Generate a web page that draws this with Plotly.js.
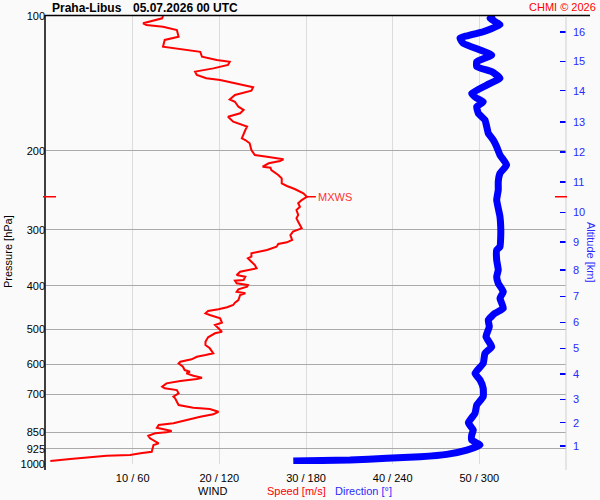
<!DOCTYPE html>
<html>
<head>
<meta charset="utf-8">
<script src="https://cdn.plot.ly/plotly-3.0.1.min.js"></script>
<style>html,body{margin:0;padding:0;background:#fafafa;}#chart{width:600px;height:500px;}</style>
</head>
<body>
<div id="chart"></div>
<script>
// Wind speed profile (pressure hPa, speed m/s)
var speedP = [100,101.2,103.8,104.7,105.7,107.5,111.2,113.1,117.1,118.5,120.2,123.3,125.4,126.5,128.6,130.9,133.1,135.4,137.7,138.9,141.3,144.2,146.8,150.1,153.5,155.4,159.4,162.1,164.9,167.8,172.2,176.6,
179.7,187.5,189.2,192.4,199.2,204.4,206.2,207.8,208.9,210.7,213.2,217.0,218.1,220.7,226.4,230.4,236.3,239.6,243.3,248.8,253.2,257.5,261.9,266.5,271.0,278.1,282.9,287.9,297.8,303.0,308.3,316.2,320.0,322.8,327.3,332.9,335.8,338.6,
344.5,347.4,353.5,359.6,365.7,368.9,372.2,378.5,381.9,388.4,389.8,395.1,398.6,402.1,407.5,412.5,415.9,419.6,430.5,436.5,441.7,446.9,451.6,455.5,461.0,465.0,473.0,483.8,489.5,497.8,506.6,510.8,521.4,533.3,542.5,551.8,566.2,571.2,576.2,583.9,
591.2,596.1,606.6,617.0,622.4,627.5,635.3,641.9,646.2,652.9,660.7,672.3,677.8,683.8,695.5,707.7,713.6,726.2,738.6,748.9,753.9,764.5,774.7,784.4,801.9,811.4,818.5,830.0,844.2,849.9,854.3,864.9,876.5,892.0,899.3,907.3,939.1,946.8,955.0,958.4,966.1,974.6,984.7];
var speed = [13.5,13.4,11.2,11.6,13.5,15.1,15.3,13.7,13.5,15.8,17.8,18.0,19.7,21.2,21.0,19.3,17.2,17.4,18.5,20.1,22.0,23.9,23.7,21.8,21.2,21.8,22.2,22.8,22.4,21.0,21.6,23.2,
23.0,22.6,23.0,23.5,23.7,24.1,25.5,26.6,27.4,27.0,25.7,25.0,25.9,26.0,26.8,27.2,27.2,27.8,28.7,29.7,30.1,29.5,29.1,29.3,28.9,29.1,28.9,29.1,29.5,28.5,28.2,28.4,27.8,26.8,26.6,25.5,24.7,23.7,
23.7,23.3,23.7,24.1,24.3,23.5,22.4,22.0,23.0,22.8,21.8,22.0,23.3,23.2,22.2,22.0,23.0,22.4,22.2,21.8,21.6,20.9,19.9,18.7,18.4,18.9,20.1,20.3,19.5,19.9,20.3,19.5,18.7,18.4,18.4,18.9,19.3,18.4,17.4,16.8,
15.5,15.3,15.8,16.0,16.6,16.2,17.0,18.0,17.4,15.5,13.9,13.4,13.7,15.1,15.3,14.7,14.9,15.1,15.3,17.0,18.9,19.9,19.3,17.8,15.8,14.7,13.0,12.8,14.5,13.9,12.6,11.8,12.0,12.6,13.0,12.4,12.2,10.9,9.7,7.0,4.7,2.8,0.5];

// Wind direction profile (pressure hPa, direction deg)
var dirP = [100,101.2,104.7,108.4,112.1,115.1,119.1,122.2,126.5,129.8,133.1,137.7,142.6,148.8,152.6,155.4,159.4,164.9,170.7,176.6,182.7,189.2,195.8,204.4,215.0,224.4,234.4,244.6,257.5,268.7,280.5,295.3,310.9,327.3,332.9,350.4,368.9,381.9,395.1,412.5,426.7,449.2,461.0,477.2,493.8,519.8,547.2,566.2,596.1,627.5,649.4,677.8,707.7,738.6,770.8,808.6,839.8,861.8,884.2,907.3,930.9,951.6,963.4,971.1,979.7,984.7];
var direction = [310.8,307.4,314.3,302.7,286.6,288.9,300.5,308.6,298.2,298.2,308.6,314.3,305.1,294.7,298.2,302.7,298.2,299.3,303.9,305.1,306.2,309.7,312.0,314.3,318.9,314.3,313.1,313.1,312.0,313.1,314.3,314.8,314.8,314.3,312.0,312.0,313.1,312.0,313.1,316.6,314.3,316.6,310.8,306.2,306.9,304.6,308.6,303.9,302.7,297.0,300.5,302.7,302.7,298.2,297.0,292.4,295.8,294.7,294.7,300.5,291.3,277.4,258.9,235.9,210.5,171.2];

// Axis ticks
var pressureTicks = [100,200,300,400,500,600,700,850,925,1000];
var speedTicks = [10,20,30,40,50];
var speedTickText = ['10 / 60','20 / 120','30 / 180','40 / 240','50 / 300'];
var altKm = [1,2,3,4,5,6,7,8,9,10,11,12,13,14,15,16];
var altPressure = [911.9,808.7,717,629.6,551.6,482.7,423,369,319.6,274.3,235,201.2,172.4,146.8,126.2,108.7];

// Layout helpers (pixel -> paper)
var L = 46, R = 566, T = 16, B = 464;
function px(x){ return (x - L) / (R - L); }
function py(y){ return (B - y) / (B - T); }

var FONT = 'Liberation Sans, Arial, sans-serif';

// max wind level
var iMax = 0;
for (var i = 1; i < speed.length; i++) if (speed[i] > speed[iMax]) iMax = i;
var mxP = speedP[iMax], mxS = speed[iMax];

var traces = [
  {x: speed, y: speedP, type: 'scatter', mode: 'lines', xaxis: 'x', yaxis: 'y',
   line: {color: '#ff0000', width: 2}, hoverinfo: 'skip'},
  {x: direction, y: dirP, type: 'scatter', mode: 'lines', xaxis: 'x2', yaxis: 'y2',
   line: {color: '#0000ff', width: 7, shape: 'spline', smoothing: 0.4}, hoverinfo: 'skip'}
];

var layout = {
  width: 600, height: 500,
  margin: {l: L, r: 600 - R, t: T, b: 500 - B},
  paper_bgcolor: '#fafafa', plot_bgcolor: '#fafafa',
  showlegend: false,
  font: {family: FONT, size: 11, color: '#000'},
  xaxis: {range: [0, 60], tickvals: speedTicks, ticktext: speedTickText,
    showgrid: true, gridcolor: '#dcdcdc', gridwidth: 1, zeroline: false, showline: false,
    ticks: '', ticklabelstandoff: 6, tickfont: {family: FONT, size: 11, color: '#000'}, fixedrange: true},
  xaxis2: {range: [0, 360], overlaying: 'x', visible: false, fixedrange: true},
  yaxis: {type: 'log', range: [3, 2], tickvals: pressureTicks, ticktext: pressureTicks.map(String),
    showgrid: true, gridcolor: '#aaaaaa', gridwidth: 1, zeroline: false, showline: false,
    ticks: '', tickfont: {family: FONT, size: 11, color: '#000'}, fixedrange: true},
  yaxis2: {type: 'log', range: [3, 2], overlaying: 'y', side: 'right',
    tickvals: altPressure, ticktext: altKm.map(String),
    showgrid: false, zeroline: false, showline: false,
    ticks: 'inside', ticklen: 6, tickwidth: 1.5, tickcolor: '#0000ff', ticklabelstandoff: 6,
    tickfont: {family: FONT, size: 11, color: '#2a2aff'}, fixedrange: true},
  shapes: [
    {type: 'line', xref: 'paper', yref: 'paper', x0: px(45), x1: px(45), y0: py(470), y1: py(15), line: {color: '#000', width: 1.5}},
    {type: 'line', xref: 'paper', yref: 'paper', x0: px(45), x1: px(590), y0: py(15.5), y1: py(15.5), line: {color: '#000', width: 1.5}},
    {type: 'line', xref: 'paper', yref: 'paper', x0: 1, x1: 1, y0: py(470), y1: py(16), line: {color: '#cfcfcf', width: 1}},
    {type: 'line', xref: 'paper', yref: 'y', x0: px(43), x1: px(56), y0: mxP, y1: mxP, line: {color: '#ff0000', width: 1.5}},
    {type: 'line', xref: 'paper', yref: 'y', x0: px(555), x1: px(567), y0: mxP, y1: mxP, line: {color: '#ff0000', width: 1.5}},
    {type: 'line', xref: 'x', yref: 'y', xsizemode: 'pixel', xanchor: mxS, x0: 0, x1: 9, y0: mxP, y1: mxP, line: {color: '#ff0000', width: 1.5}}
  ],
  annotations: [
    {xref: 'paper', yref: 'paper', x: px(50), y: py(8), xanchor: 'left', yanchor: 'middle', showarrow: false,
     text: '<b>Praha-Libus</b>', font: {family: FONT, size: 12, color: '#000'}},
    {xref: 'paper', yref: 'paper', x: px(131), y: py(8), xanchor: 'left', yanchor: 'middle', showarrow: false,
     text: '<b>05.07.2026 00 UTC</b>', font: {family: FONT, size: 12, color: '#000'}},
    {xref: 'paper', yref: 'paper', x: px(598), y: py(7), xanchor: 'right', yanchor: 'middle', showarrow: false,
     text: 'CHMI © 2026', font: {family: FONT, size: 11, color: '#ff0000'}},
    {xref: 'paper', yref: 'paper', x: px(8), y: py(252), xanchor: 'center', yanchor: 'middle', showarrow: false,
     textangle: -90, text: 'Pressure [hPa]', font: {family: FONT, size: 11, color: '#000'}},
    {xref: 'paper', yref: 'paper', x: px(591), y: py(252), xanchor: 'center', yanchor: 'middle', showarrow: false,
     textangle: 90, text: 'Altitude [km]', font: {family: FONT, size: 11, color: '#2a2aff'}},
    {xref: 'paper', yref: 'paper', x: px(196), y: py(491), xanchor: 'left', yanchor: 'middle', showarrow: false,
     text: 'WIND', font: {family: FONT, size: 11, color: '#000'}},
    {xref: 'paper', yref: 'paper', x: px(265), y: py(491), xanchor: 'left', yanchor: 'middle', showarrow: false,
     text: 'Speed [m/s]', font: {family: FONT, size: 11, color: '#ff0000'}},
    {xref: 'paper', yref: 'paper', x: px(333), y: py(491), xanchor: 'left', yanchor: 'middle', showarrow: false,
     text: 'Direction [°]', font: {family: FONT, size: 11, color: '#2a2aff'}},
    {xref: 'x', yref: 'y', x: mxS, y: Math.log10(mxP), xanchor: 'left', yanchor: 'middle', xshift: 9, showarrow: false,
     text: 'MXWS', font: {family: FONT, size: 11, color: '#ff3333'}}
  ]
};

Plotly.newPlot('chart', traces, layout, {staticPlot: true, displayModeBar: false});
</script>
</body>
</html>
